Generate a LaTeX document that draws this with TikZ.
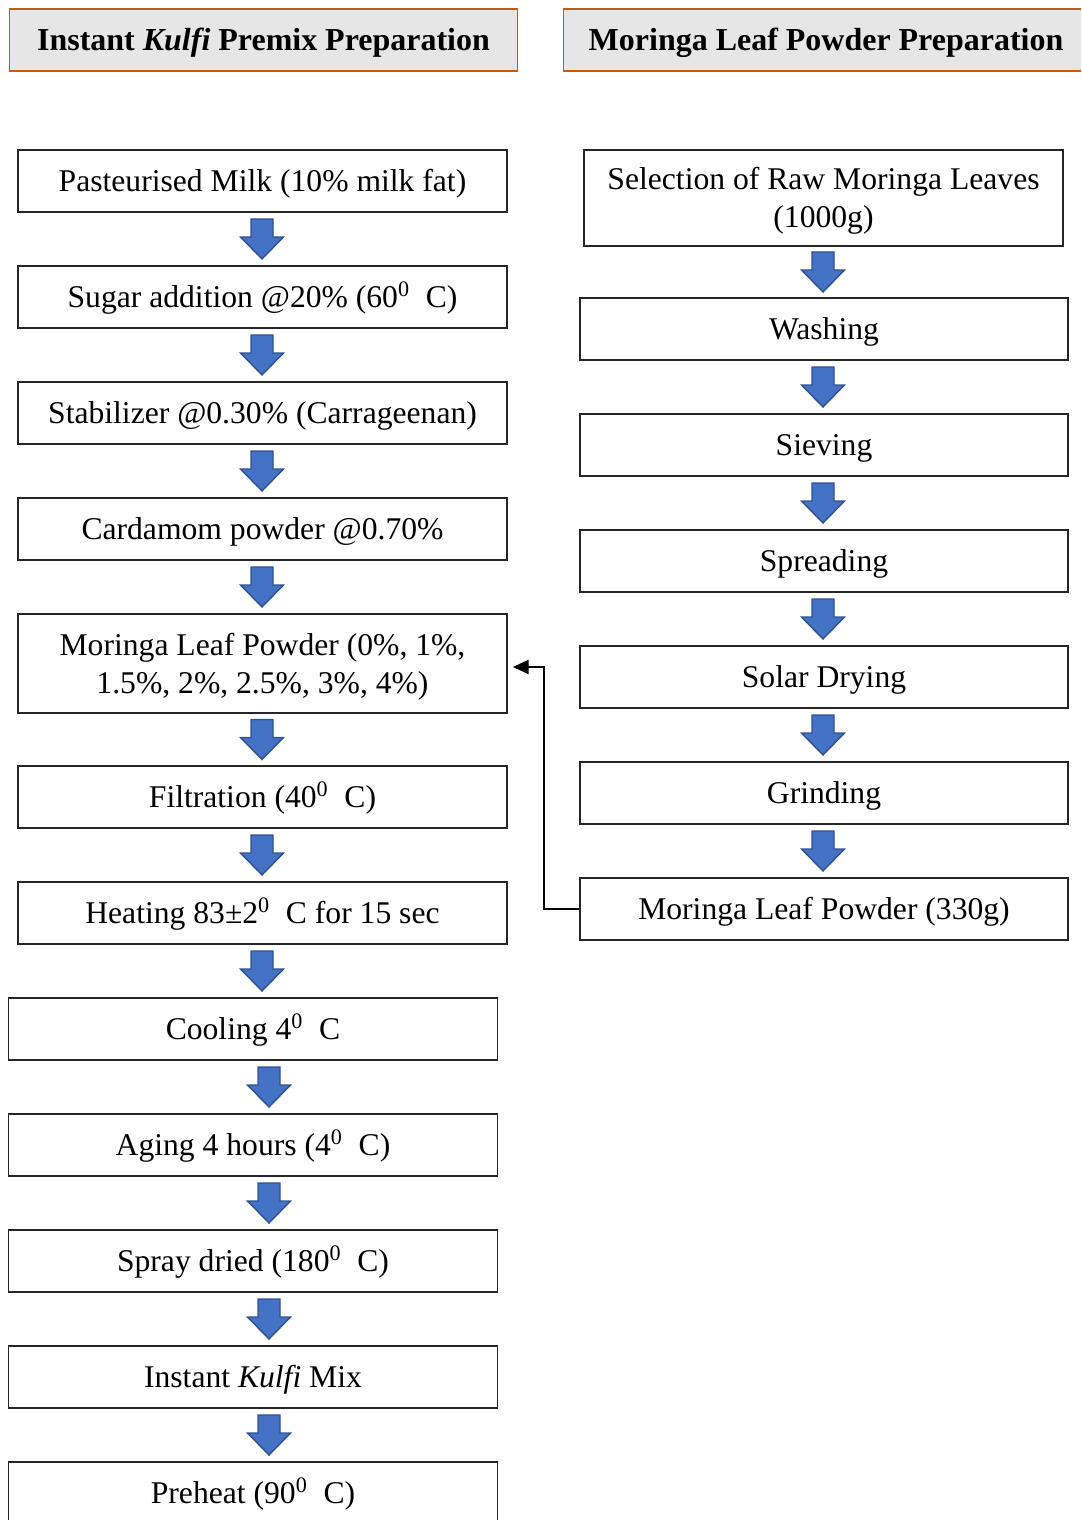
\documentclass[tikz,border=0pt]{standalone}
\usepackage{fontspec}
\setmainfont{Liberation Serif}
\usetikzlibrary{arrows.meta,calc}
\definecolor{hdrfill}{HTML}{E6E6E6}
\definecolor{hdrline}{HTML}{C55A11}
\definecolor{arrfill}{HTML}{4472C4}
\definecolor{arrline}{HTML}{2F528F}
\tikzset{
  hdr/.style={draw=hdrline, line width=0.6pt, fill=hdrfill, minimum height=1.24cm, inner sep=0pt,
    text height=17pt, text depth=5pt,
    font=\fontsize{18.2}{21.5}\selectfont\bfseries},
  stepbox/.style={draw=black!85, line width=0.7pt, minimum height=1.24cm, align=center, inner sep=0pt,
    font=\fontsize{18}{21.5}\selectfont},
  oneline/.style={text height=17pt, text depth=5pt},
  lbox/.style={stepbox, oneline, minimum width=9.78cm},
  rbox/.style={stepbox, oneline, minimum width=9.76cm},
  blk/.style={draw=arrline, line width=0.8pt, fill=arrfill, line join=miter},
  link/.style={line width=1.1pt, -{Triangle[length=9pt,width=8pt]}, shorten >=3pt},
}
\newcommand\barr[3]{%
  \coordinate (tmp) at ($(#1.south)!0.5!(#2.north)$);
  \draw[blk] (#3,0 |- tmp) ++(-11,-20) -- ++(22,0) -- ++(0,18) -- ++(10.5,0)
    -- ++(-21.5,22) -- ++(-21.5,-22) -- ++(10.5,0) -- cycle;}
\newcommand\dg[1]{#1\textsuperscript{0}\hspace{0.5em}C}
\newcommand\up{\rule{0pt}{16pt}}
\begin{document}
\begin{tikzpicture}[x=0.02cm,y=-0.02cm]
\useasboundingbox (0,0) rectangle (1081,1520);
\clip (0,0) rectangle (1081,1520);
% headers
\node[hdr, minimum width=10.18cm] (h1) at (263.5,40) {Instant \textit{Kulfi} Premix Preparation};
\node[hdr, minimum width=10.52cm] (h2) at (826,40) {Moringa Leaf Powder Preparation};
% left column
\node[lbox] (a1) at (262.5,181) {Pasteurised Milk (10\% milk fat)};
\node[lbox] (a2) at (262.5,297) {Sugar addition @20\% (\dg{60})};
\node[lbox] (a3) at (262.5,413) {Stabilizer @0.30\% (Carrageenan)};
\node[lbox] (a4) at (262.5,529) {Cardamom powder @0.70\%};
\node[stepbox, minimum width=9.78cm, minimum height=1.98cm] (a5) at (262.5,663.5) {\up Moringa Leaf Powder (0\%, 1\%,\\1.5\%, 2\%, 2.5\%, 3\%, 4\%)};
\node[lbox] (a6) at (262.5,797) {Filtration (\dg{40})};
\node[lbox] (a7) at (262.5,913) {Heating 83±\dg{2} for 15 sec};
\node[lbox] (a8) at (253,1029) {Cooling \dg{4}};
\node[lbox] (a9) at (253,1145) {Aging 4 hours (\dg{4})};
\node[lbox] (a10) at (253,1261) {Spray dried (\dg{180})};
\node[lbox] (a11) at (253,1377) {Instant \textit{Kulfi} Mix};
\node[lbox] (a12) at (253,1493) {Preheat (\dg{90})};
% right column
\node[stepbox, minimum width=9.58cm, minimum height=1.92cm] (b1) at (823.5,198) {\up Selection of Raw Moringa Leaves\\(1000g)};
\node[rbox] (b2) at (824,329) {Washing};
\node[rbox] (b3) at (824,445) {Sieving};
\node[rbox] (b4) at (824,561) {Spreading};
\node[rbox] (b5) at (824,677) {Solar Drying};
\node[rbox] (b6) at (824,793) {Grinding};
\node[rbox] (b7) at (824,909) {Moringa Leaf Powder (330g)};
% block arrows
\barr{a1}{a2}{262}
\barr{a2}{a3}{262}
\barr{a3}{a4}{262}
\barr{a4}{a5}{262}
\barr{a5}{a6}{262}
\barr{a6}{a7}{262}
\barr{a7}{a8}{262}
\barr{a8}{a9}{269}
\barr{a9}{a10}{269}
\barr{a10}{a11}{269}
\barr{a11}{a12}{269}
\barr{b1}{b2}{823}
\barr{b2}{b3}{823}
\barr{b3}{b4}{823}
\barr{b4}{b5}{823}
\barr{b5}{b6}{823}
\barr{b6}{b7}{823}
% link
\draw[link] (b7.west) -- ++(-35,0) |- ([yshift=-3.5*0.02cm]a5.east);
\end{tikzpicture}
\end{document}
